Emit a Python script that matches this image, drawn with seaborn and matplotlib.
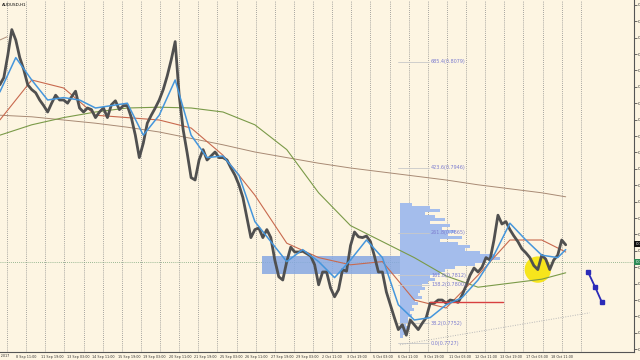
import numpy as np
import pandas as pd
import matplotlib
matplotlib.use("Agg")
import matplotlib.pyplot as plt
from matplotlib.patches import Rectangle
import seaborn as sns

# ---------------- data ----------------
symbol_title = "AUDUSD,H1"

close_price = [
    0.8050, 0.8059, 0.8087, 0.8119, 0.8106, 0.8084, 0.8069, 0.8050, 0.8044, 0.8040,
    0.8031, 0.8024, 0.8016, 0.8027, 0.8037, 0.8031, 0.8031, 0.8027, 0.8035, 0.8042,
    0.8021, 0.8016, 0.8021, 0.8019, 0.8009, 0.8016, 0.8021, 0.8009, 0.8025, 0.8030,
    0.8019, 0.8024, 0.8024, 0.8009, 0.7987, 0.7959, 0.7977, 0.8002, 0.8012, 0.8021,
    0.8031, 0.8044, 0.8061, 0.8081, 0.8104, 0.8037, 0.7994, 0.7965, 0.7934, 0.7931,
    0.7956, 0.7969, 0.7956, 0.7961, 0.7966, 0.7959, 0.7959, 0.7956, 0.7946, 0.7937,
    0.7925, 0.7909, 0.7884, 0.7859, 0.7869, 0.7871, 0.7859, 0.7869, 0.7859, 0.7831,
    0.7810, 0.7806, 0.7829, 0.7847, 0.7841, 0.7841, 0.7842, 0.7839, 0.7836, 0.7825,
    0.7800, 0.7816, 0.7816, 0.7796, 0.7785, 0.7794, 0.7819, 0.7817, 0.7849, 0.7866,
    0.7860, 0.7859, 0.7861, 0.7854, 0.7836, 0.7816, 0.7816, 0.7791, 0.7775, 0.7759,
    0.7744, 0.7750, 0.7737, 0.7756, 0.7750, 0.7744, 0.7752, 0.7759, 0.7777, 0.7777,
    0.7781, 0.7781, 0.7777, 0.7781, 0.7780, 0.7778, 0.7787, 0.7799, 0.7812, 0.7821,
    0.7816, 0.7822, 0.7834, 0.7831, 0.7856, 0.7887, 0.7876, 0.7879, 0.7869, 0.7861,
    0.7854, 0.7845, 0.7840, 0.7834, 0.7824, 0.7819, 0.7837, 0.7832, 0.7819, 0.7831,
    0.7837, 0.7856, 0.7850,
]

ma_fast = [
    0.8041, 0.8084, 0.8056, 0.8031, 0.8034, 0.8031, 0.8021, 0.8024, 0.8027, 0.7987,
    0.8012, 0.8056, 0.7987, 0.7959, 0.7961, 0.7937, 0.7879, 0.7854, 0.7829, 0.7844,
    0.7829, 0.7809, 0.7831, 0.7856, 0.7834, 0.7775, 0.7756, 0.7759, 0.7775, 0.7784,
    0.7806, 0.7837, 0.7877, 0.7856, 0.7837, 0.7834, 0.7844,
]

ma_mid = [
    0.8006, 0.8056, 0.8046, 0.8012, 0.8009, 0.8006, 0.7996, 0.7962, 0.7912, 0.7852,
    0.7834, 0.7825, 0.7829, 0.7781, 0.7771, 0.7812, 0.7856, 0.7856, 0.7841,
]

ma_slow = [
    0.7987, 0.8000, 0.8009, 0.8016, 0.8021, 0.8022, 0.8021, 0.8016, 0.8000, 0.7969,
    0.7915, 0.7874, 0.7854, 0.7834, 0.7811, 0.7797, 0.7802, 0.7807, 0.7815,
]

ma_long = [
    0.8012, 0.8010, 0.8006, 0.8002, 0.7997, 0.7991, 0.7983, 0.7975, 0.7966, 0.7959,
    0.7952, 0.7946, 0.7941, 0.7936, 0.7931, 0.7925, 0.7920, 0.7915, 0.7910,
]

date_labels = [
    "7 Sep 2017", "8 Sep 11:00", "11 Sep 19:00", "13 Sep 03:00", "14 Sep 11:00",
    "15 Sep 19:00", "19 Sep 03:00", "20 Sep 11:00", "21 Sep 19:00", "25 Sep 03:00",
    "26 Sep 11:00", "27 Sep 19:00", "29 Sep 03:00", "2 Oct 11:00", "3 Oct 19:00",
    "5 Oct 03:00", "6 Oct 11:00", "9 Oct 19:00", "11 Oct 03:00", "12 Oct 11:00",
    "13 Oct 19:00", "17 Oct 03:00", "18 Oct 11:00",
]

fib_prices = [0.8079, 0.7946, 0.7865, 0.7812, 0.7800, 0.7752, 0.7727]
fib_labels = ["685.4(0.8079)", "423.6(0.7946)", "261.8(0.7865)", "161.8(0.7812)",
              "138.2(0.7800)", "38.2(0.7752)", "0.0(0.7727)"]

profile_vol = [
    12, 30, 40, 25, 35, 45, 30, 50, 42, 55, 48, 62, 40, 58, 70, 65, 80, 95, 100, 85,
    75, 55, 45, 40, 30, 35, 28, 22, 25, 20, 18, 22, 15, 18, 12, 14, 10, 12, 8, 8,
    6, 10, 8, 5, 3,
]

current_price = 0.78285
tag_price = 0.7851
poc_price = 0.7778

# ---------------- positions ----------------
close_bar = np.arange(len(close_price)) * 5 - 9
fast_bar = np.r_[np.arange(-9, 700, 20), 701]
ma_bar = np.r_[np.arange(-9, 700, 40), 701]
tick_bar = np.arange(len(date_labels)) * 32 - 21
profile_levels = 0.7900 - np.arange(len(profile_vol)) * 0.000375

# ---------------- figure ----------------
sns.set_style("white")
plt.rcParams["font.family"] = ["DejaVu Sans"]

bg = "#fdf5e2"
fig = plt.figure(figsize=(6.4, 3.6), dpi=100, facecolor=bg)
ax = fig.add_axes([0.0, 8 / 360, 634 / 640, 352 / 360])
ax.set_facecolor(bg)
ax.set_xlim(-8.8, 786.7)
ax.set_ylim(0.7716, 0.8156)

# daily dotted grid
for b in np.arange(0, 721, 24):
    ax.axvline(b, color="#8a8a8a", lw=0.6, ls=(0, (1, 1.5)), zorder=0)

# current price dotted line
ax.axhline(current_price, color="#7aa57a", lw=0.6, ls=(0, (1, 1.5)), zorder=1)

# blue band rectangle
ax.add_patch(Rectangle((320, 0.78135), 173, 0.00225, facecolor="#86a8e2",
                       edgecolor="none", alpha=0.85, zorder=1))

# volume profile
ax.barh(profile_levels, np.array(profile_vol) * 1.2547, left=493, height=0.000375,
        color="#a4bdec", edgecolor="none", zorder=1)

# yellow circle
ax.scatter([666], [0.7819], s=360, color="#f7e51c", edgecolors="none", zorder=2)

# moving averages
sns.lineplot(x=ma_bar, y=ma_long, ax=ax, color="#a88a74", lw=0.7, sort=False, zorder=2)
sns.lineplot(x=ma_bar, y=ma_slow, ax=ax, color="#7a9a48", lw=0.8, sort=False, zorder=2)
sns.lineplot(x=ma_bar, y=ma_mid, ax=ax, color="#c8694e", lw=0.8, sort=False, zorder=2)

# price
sns.lineplot(x=close_bar, y=close_price, ax=ax, color="#505050", lw=2.0, sort=False, zorder=3)
sns.lineplot(x=fast_bar, y=ma_fast, ax=ax, color="#4596dc", lw=1.1, sort=False, zorder=4)

# fib labels
for p, t in zip(fib_prices, fib_labels):
    ax.plot([490, 530], [p, p], color="#c8c8c8", lw=0.6, zorder=2)
    ax.text(532, p, t, fontsize=3.5, color="#7d7dd0", va="center", ha="left", zorder=5)

# red level line
ax.plot([531, 622], [poc_price, poc_price], color="#d84040", lw=1.0, zorder=3)

# dotted trendline
ax.plot([493, 731], [0.7725, 0.7765], color="#b8b8b8", lw=0.7, ls=(0, (1, 1.5)), zorder=2)

# short line near the top-left corner
ax.plot([-9, 0], [0.8106, 0.8110], color="#b0907a", lw=0.7, zorder=2)

# blue arrow line
ax.plot([729, 738, 746.5], [0.7816, 0.7797, 0.7778], color="#2b2bb8", lw=1.3,
        marker="s", markersize=2.2, zorder=5)

# title
ax.text(0.003, 0.992, symbol_title, transform=ax.transAxes, fontsize=3, color="black",
        va="top", ha="left")

# axes styling
for s in ["top", "left"]:
    ax.spines[s].set_visible(False)
ax.spines["right"].set_color("#555555")
ax.spines["bottom"].set_color("#555555")
ax.spines["right"].set_linewidth(0.8)
ax.spines["bottom"].set_linewidth(0.8)

yt = 0.8150 - np.arange(22) * 0.00205
ax.set_yticks(yt)
ax.set_yticklabels([f"{v:.4f}" for v in yt])
ax.yaxis.tick_right()
ax.tick_params(axis="y", length=2, width=0.5, pad=1, labelsize=3.2, colors="#333333")

ax.set_xticks(tick_bar[1:])
ax.set_xticklabels(date_labels[1:], ha="left")
ax.tick_params(axis="x", length=1.5, width=0.5, pad=0.5, labelsize=2.4, colors="#333333")
ax.set_xlabel("")
ax.set_ylabel("")
# first (partly hidden) date label
ax.text(tick_bar[0], -0.006, date_labels[0], transform=ax.get_xaxis_transform(),
        fontsize=2.4, color="#333333", ha="left", va="top", clip_on=False)

# price tags on right axis
ytr = ax.get_yaxis_transform()
ax.text(1.002, current_price, "0.7828", transform=ytr, fontsize=3, color="white",
        va="center", ha="left", clip_on=False,
        bbox=dict(boxstyle="square,pad=0.25", fc="#2e8b57", ec="none"))
ax.text(1.002, tag_price, "0.7851", transform=ytr, fontsize=3, color="white",
        va="center", ha="left", clip_on=False,
        bbox=dict(boxstyle="square,pad=0.25", fc="#111111", ec="none"))

fig.savefig("out.png", dpi=100, facecolor=bg)
